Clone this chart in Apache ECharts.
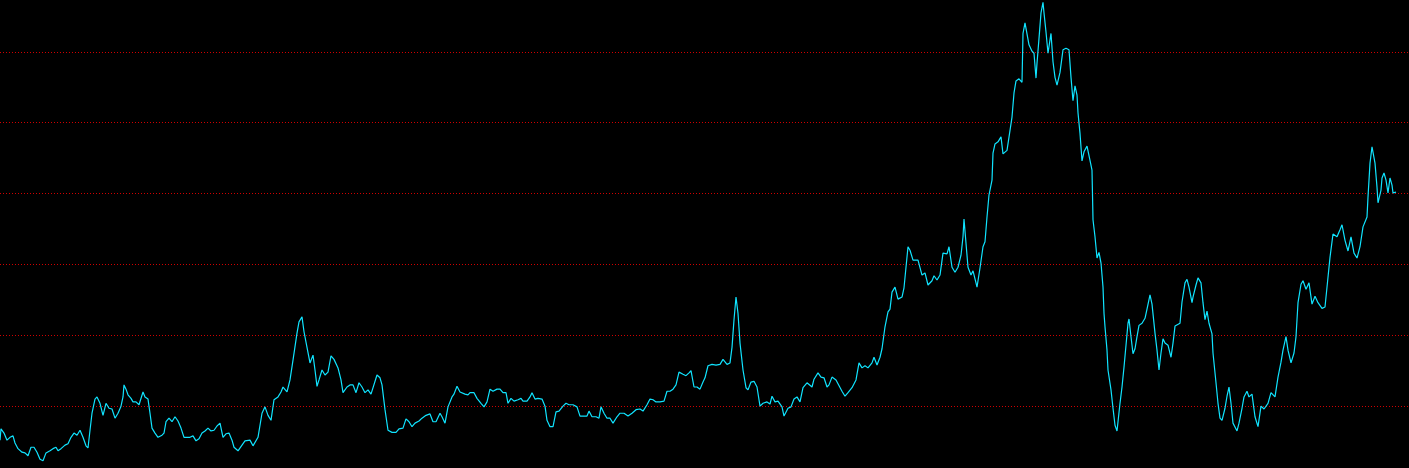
<!DOCTYPE html>
<html>
<head>
<meta charset="utf-8">
<script src="https://cdn.jsdelivr.net/npm/echarts@6/dist/echarts.min.js"></script>
<style>
  html, body { margin: 0; padding: 0; background: #000; }
  #chart { width: 1409px; height: 468px; }
</style>
</head>
<body>
<div id="chart"></div>
<script>
// sample positions along the time axis
const dayIdx = [
  0, 1, 4, 7, 10, 13, 15, 18, 22, 25, 28, 31, 34, 37, 40, 43, 46, 50, 53, 56, 58, 61, 65, 68, 71, 74, 77, 80, 83, 86, 88, 90,
  92, 95, 97, 100, 103, 106, 109, 112, 115, 118, 121, 123, 124, 126, 128, 131, 133, 136, 139, 143, 145, 148, 150, 152, 155,
  158, 162, 164, 166, 169, 172, 175, 178, 181, 184, 187, 190, 193, 196, 199, 202, 205, 208, 211, 214, 217, 220, 223, 226,
  229, 232, 234,
  235, 238, 242, 245, 250, 253, 258, 262, 265, 268, 271, 274, 278, 281, 283, 287, 290, 293, 297, 299, 302, 304, 307, 310,
  313, 315, 317, 319, 322, 325, 328, 331, 334, 338, 341, 343, 347, 350, 353, 356, 359, 362, 365, 368, 371, 373, 377, 380,
  382, 385, 388, 392, 396, 399, 403, 406, 409, 412, 415, 419, 422, 426, 430, 433, 436, 440, 442, 445, 448, 452, 454, 457,
  460, 465, 468,
  470, 474, 477, 481, 484, 487, 490, 493, 497, 500, 503, 506, 508, 511, 514, 518, 521, 523, 527, 530, 532, 535, 538, 542,
  545, 547, 550, 553, 556, 559, 563, 566, 569, 573, 577, 580, 583, 587, 589, 592, 596, 599, 601, 604, 607, 610, 613, 617,
  620, 624, 628, 632, 636, 640, 643, 647, 650, 653, 656, 660, 664, 667, 670, 673, 676, 679, 683, 686, 689, 691, 694, 697,
  700, 703,
  705, 708, 712, 716, 720, 723, 727, 730, 732, 734, 736, 738, 740, 743, 746, 748, 751, 754, 757, 760, 763, 767, 770, 772,
  775, 778, 782, 784, 788, 791, 794, 797, 800, 803, 807, 809, 812, 814, 818, 821, 824, 827, 829, 832, 836, 838, 842, 845,
  848, 852, 856, 859, 862, 865, 868, 872, 874, 877, 880, 882, 885, 888, 890, 892, 895, 898, 902, 904, 906, 908, 910, 913,
  918, 922, 925, 928, 932, 934, 937, 940,
  943, 947, 949, 952, 955, 958, 961, 963, 964, 966, 968, 971, 973, 976, 977, 980, 983, 985, 987, 989, 992, 993, 995, 998,
  1001, 1003, 1007, 1009, 1012, 1014, 1016, 1019, 1022, 1023, 1025, 1027, 1029, 1032, 1034, 1036, 1037, 1039, 1041, 1043,
  1044, 1046, 1048, 1050, 1051, 1053, 1055, 1057, 1060, 1063, 1066, 1069, 1071, 1073, 1075, 1077, 1078, 1080, 1082, 1084,
  1087, 1090, 1092, 1093, 1095, 1097, 1099, 1101, 1103, 1104, 1105, 1107, 1108, 1111, 1113, 1115, 1117, 1120, 1122, 1124,
  1126, 1128, 1129, 1131, 1133, 1135, 1137, 1139, 1142, 1145, 1147, 1150, 1152, 1155, 1157, 1159, 1161, 1163, 1165, 1168,
  1171, 1173,
  1175, 1180, 1182, 1185, 1187, 1189, 1192, 1193, 1196, 1198, 1201, 1203, 1205, 1207, 1209, 1212, 1213, 1216, 1218, 1220,
  1222, 1225, 1227, 1229, 1231, 1233, 1237, 1239, 1242, 1244, 1247, 1249, 1252, 1255, 1258, 1261, 1264, 1268, 1271, 1275,
  1278, 1281, 1283, 1286, 1288, 1291, 1294, 1296, 1298, 1301, 1303, 1306, 1309, 1312, 1315, 1318, 1322, 1325, 1328, 1330,
  1333, 1337, 1340, 1342, 1345, 1348, 1351, 1354, 1357, 1360, 1363, 1367, 1368, 1370, 1372, 1375, 1377, 1378, 1381, 1382,
  1384, 1386, 1388, 1390, 1392, 1393, 1396
];

const prices = [
  5.2, 6.8, 6.2, 5.2, 5.6, 5.8, 4.8, 4.0, 3.5, 3.4, 3.0, 4.2, 4.2, 3.5, 2.5, 2.3, 3.4, 3.7, 4.0, 4.2, 3.7, 4.0, 4.5, 4.7,
  5.6, 6.2, 5.9, 6.6, 5.6, 4.4, 4.1, 6.6,
  9.0, 11.0, 11.3, 10.4, 8.7, 10.4, 9.7, 9.6, 8.3, 9.0, 10.0, 11.3, 13.0, 12.4, 11.6, 11.1, 10.6, 10.6, 10.2, 12.0, 11.3,
  11.0, 9.0, 6.9, 6.2, 5.6, 5.9, 6.2, 7.8, 8.3, 7.8, 8.5, 7.9, 6.9, 5.6, 5.6, 5.6, 5.8, 5.1, 5.4, 6.2, 6.5, 6.9, 6.5, 6.6,
  7.2, 7.6, 5.6, 6.1, 6.2, 5.2, 4.2,
  4.0, 3.7, 4.5, 5.1, 5.2, 4.4, 5.6, 9.0, 9.9, 8.7, 8.0, 10.9, 11.3, 12.0, 12.7, 12.0, 13.7, 16.5, 20.3, 21.9, 22.6, 20.5,
  18.3, 16.1, 17.2, 15.1, 12.8, 13.7, 15.1, 14.4, 14.8, 17.1, 16.6, 15.4, 13.7, 11.9, 12.7, 13.0, 13.0, 11.9, 13.3, 12.7,
  11.9, 12.3, 11.7, 11.9, 14.4, 14.0, 13.0, 9.5, 6.6, 6.3, 6.3, 6.8, 6.9, 8.2, 7.8, 7.1, 7.6, 7.9, 8.3, 8.7, 8.9, 7.8, 7.8,
  9.0, 8.5, 7.6, 9.9, 11.3, 11.7, 12.8, 12.0, 11.7, 11.6,
  11.9, 11.9, 11.1, 10.4, 9.9, 10.6, 12.4, 12.1, 12.4, 12.4, 11.9, 11.9, 10.4, 11.1, 10.7, 10.9, 11.1, 10.7, 10.7, 11.3,
  11.9, 11.0, 11.1, 11.0, 10.0, 8.0, 7.1, 7.1, 9.2, 9.3, 10.0, 10.4, 10.2, 10.2, 9.9, 8.6, 8.6, 8.6, 9.3, 8.5, 8.5, 8.3,
  9.9, 9.0, 8.3, 8.3, 7.6, 8.5, 9.0, 9.0, 8.6, 9.0, 9.5, 9.6, 9.3, 10.2, 11.0, 10.9, 10.6, 10.6, 10.7, 12.1, 12.1, 12.4,
  13.0, 14.8, 14.5, 14.3, 14.7, 15.0, 12.7, 12.7, 12.4, 13.4,
  14.0, 15.7, 15.9, 15.8, 15.9, 16.6, 15.9, 16.1, 18.3, 22.2, 25.4, 23.1, 18.9, 15.1, 12.6, 12.3, 13.4, 13.5, 12.7, 10.0,
  10.4, 10.6, 10.3, 11.4, 10.6, 10.7, 9.9, 8.6, 9.7, 9.9, 11.0, 11.3, 10.6, 12.6, 13.3, 13.4, 12.7, 13.8, 14.7, 14.1, 14.0,
  12.7, 13.0, 14.1, 13.7, 13.5, 12.1, 11.4, 11.9, 12.6, 13.7, 16.1, 15.4, 15.7, 15.4, 16.1, 16.9, 15.8, 16.9, 18.1, 21.2,
  23.3, 23.7, 26.1, 26.8, 25.1, 25.4, 26.7, 29.6, 32.5, 32.0, 30.6, 30.6, 28.5, 28.8, 27.1, 27.7, 28.4, 27.8, 28.5,
  31.6, 31.5, 32.5, 29.6, 28.9, 29.6, 31.3, 33.9, 36.4, 33.0, 29.6, 28.5, 29.1, 27.4, 26.8, 29.5, 32.5, 33.2, 36.7, 39.8,
  41.9, 45.7, 47.0, 47.3, 48.0, 45.6, 46.1, 46.3, 50.8, 54.2, 55.9, 56.2, 55.7, 62.6, 64.1, 64.1, 61.0, 60.1, 59.8, 56.3,
  58.4, 61.9, 65.5, 67.0, 65.5, 62.8, 59.8, 61.7, 62.6, 58.6, 56.4, 55.3, 57.1, 60.3, 60.5, 60.3, 56.4, 53.1, 55.2, 53.9,
  51.4, 48.5, 44.6, 45.9, 46.7, 44.7, 43.3, 36.3, 33.9, 30.9, 31.7, 30.2, 26.8, 23.1, 21.2, 17.9, 15.1, 12.3, 9.7, 7.3,
  6.5, 10.4, 12.7, 15.5, 18.6, 21.7, 22.3, 19.8, 17.4, 18.1, 19.8, 21.4, 21.7, 22.4, 23.7, 25.7, 24.4, 20.3, 17.9, 15.1,
  17.5, 19.5, 18.9, 18.6, 16.9, 18.9,
  21.3, 21.7, 24.7, 27.4, 27.9, 26.8, 24.6, 25.4, 27.1, 28.1, 27.4, 24.6, 22.2, 23.4, 21.7, 20.2, 17.5, 13.3, 10.4, 8.3,
  8.0, 9.7, 11.4, 12.7, 10.4, 7.6, 6.5, 7.6, 9.7, 11.3, 12.1, 11.3, 11.7, 8.5, 7.1, 10.0, 9.6, 10.4, 11.9, 11.3,
  14.1, 16.2, 17.9, 19.8, 17.9, 16.1, 17.5, 19.8, 24.6, 27.2, 27.7, 26.5, 27.4, 24.4, 25.5, 24.6, 23.8, 24.0, 28.2, 31.0,
  34.3, 33.9, 34.9, 35.6, 33.4, 31.9, 33.9, 31.6, 30.9, 32.5, 35.3, 36.7, 39.5, 44.3, 46.6, 44.3, 40.9, 38.7, 40.5, 42.2,
  42.9, 41.9, 40.1, 42.2, 41.2, 40.1, 40.2
];

const chart = echarts.init(document.getElementById('chart'))

chart.setOption({
  animation: false,
  backgroundColor: '#000',
  grid: { left: 0, right: 0, top: 0, bottom: 0 },
  xAxis: {
    type: 'value', min: 0, max: 1409,
    axisLine: { show: false }, axisTick: { show: false },
    axisLabel: { show: false }, splitLine: { show: false }
  },
  yAxis: {
    type: 'value', min: 1.27, max: 67.32, splitNumber: 6,
    axisLine: { show: false }, axisTick: { show: false }, axisLabel: { show: false },
    splitLine: {
      showMinLine: false, showMaxLine: false,
      lineStyle: { color: '#d00000', width: 1, type: [1, 2] }
    }
  },
  series: [{
    type: 'line',
    data: dayIdx.map((d, i) => [d, prices[i]]),
    showSymbol: false,
    lineStyle: { color: '#10e4ff', width: 1.2 }
  }]
})
</script>
</body>
</html>
